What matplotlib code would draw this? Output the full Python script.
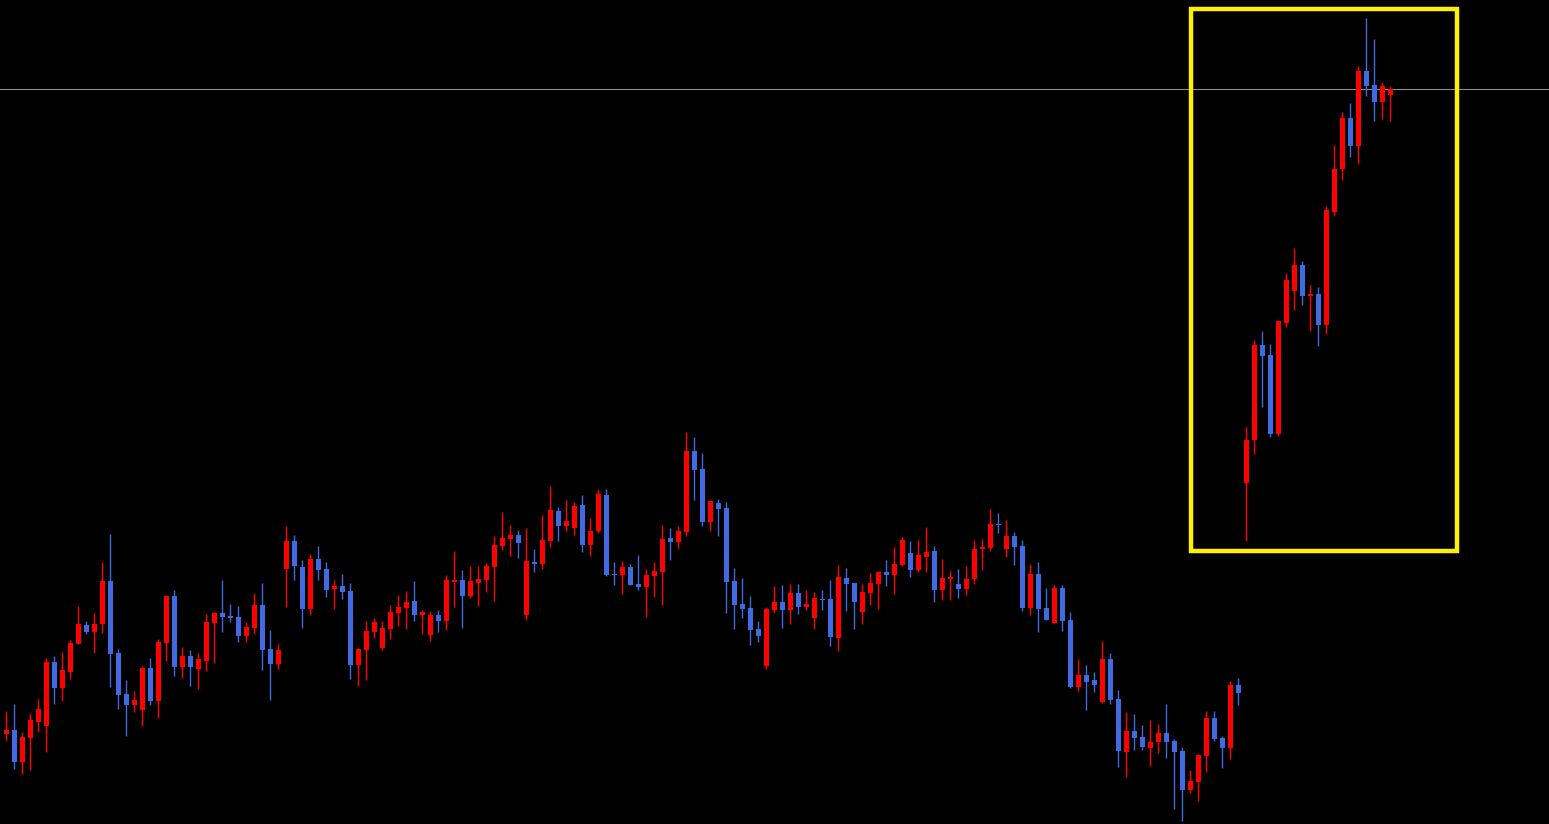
import numpy as np
import matplotlib.pyplot as plt
from matplotlib.patches import Rectangle

# OHLC (price units = chart points)
opens = [90, 94, 62, 86, 102, 98, 162, 136, 152, 180, 199, 192, 200, 243, 171, 130, 119, 114, 156, 123,
         181, 228, 157, 168, 155, 163, 201, 211, 208, 207, 188, 196, 219, 175, 160, 255, 283, 257, 215, 265,
         255, 235, 238, 233, 159, 174, 192, 176, 195, 211, 216, 223, 209, 189, 209, 203, 242, 244, 228, 241,
         244, 257, 278, 285, 289, 209, 262, 260, 283, 313, 298, 296, 319, 279, 293, 329, 250, 249, 257, 240,
         237, 248, 252, 286, 282, 292, 373, 355, 302, 321, 316, 243, 220, 216, 195, 158, 214, 222, 214, 231,
         217, 206, 225, 225, 186, 246, 241, 212, 231, 240, 252, 249, 259, 271, 254, 267, 273, 234, 245, 240,
         235, 245, 275, 276, 300, 275, 288, 278, 216, 250, 216, 201, 236, 204, 137, 149, 144, 122, 165, 125,
         72, 93, 87, 76, 82, 91, 83, 73, 34, 42, 68, 106, 86, 76, 139, 341, 384, 479, 469, 390,
         501, 533, 559, 528, 530, 499, 612, 655, 706, 678, 753, 739, 722, 729]
highs = [113, 120, 92, 111, 125, 166, 168, 172, 184, 218, 203, 211, 262, 290, 175, 144, 133, 158, 166, 185,
         228, 234, 177, 174, 171, 210, 212, 244, 220, 218, 202, 231, 241, 194, 180, 298, 289, 264, 270, 278,
         262, 244, 250, 241, 176, 203, 206, 203, 219, 229, 233, 243, 214, 213, 214, 249, 273, 254, 258, 258,
         261, 288, 312, 299, 294, 296, 275, 309, 338, 317, 324, 322, 329, 306, 335, 335, 262, 263, 260, 269,
         255, 262, 299, 296, 298, 392, 387, 371, 323, 325, 322, 256, 246, 228, 203, 217, 238, 239, 240, 240,
         234, 232, 234, 244, 259, 256, 241, 240, 251, 253, 264, 277, 287, 283, 284, 297, 278, 265, 253, 255,
         258, 284, 285, 315, 311, 304, 292, 284, 260, 262, 236, 239, 239, 212, 165, 159, 152, 183, 171, 134,
         112, 110, 99, 104, 100, 120, 85, 77, 54, 70, 113, 113, 88, 143, 146, 397, 484, 493, 480, 503,
         551, 576, 563, 539, 537, 618, 679, 712, 721, 758, 806, 785, 742, 738]
lows = [84, 55, 50, 54, 92, 72, 120, 123, 145, 180, 190, 171, 191, 137, 115, 88, 112, 98, 119, 106,
        163, 148, 146, 138, 135, 153, 161, 192, 202, 182, 182, 190, 154, 124, 155, 217, 244, 196, 209, 244,
        227, 215, 225, 145, 138, 144, 186, 174, 185, 198, 195, 203, 190, 183, 192, 194, 217, 196, 226, 218,
        232, 223, 274, 268, 266, 204, 252, 255, 277, 283, 293, 289, 272, 268, 291, 248, 239, 230, 239, 234,
        207, 227, 219, 264, 276, 288, 324, 298, 293, 288, 211, 195, 206, 179, 182, 155, 211, 196, 200, 210,
        214, 195, 214, 178, 173, 213, 195, 200, 219, 215, 238, 230, 258, 247, 252, 252, 222, 224, 224, 226,
        229, 240, 254, 273, 291, 267, 259, 213, 209, 192, 204, 201, 193, 136, 133, 114, 132, 121, 120, 57,
        47, 74, 74, 58, 71, 66, 15, 3, 31, 23, 52, 83, 56, 65, 119, 283, 370, 417, 387, 388,
        497, 514, 519, 493, 478, 490, 608, 644, 667, 660, 728, 703, 705, 703]
closes = [94, 62, 87, 104, 115, 162, 136, 154, 181, 200, 192, 200, 243, 170, 129, 119, 124, 156, 123, 182,
          228, 157, 168, 157, 165, 202, 211, 207, 206, 188, 197, 219, 174, 160, 174, 283, 258, 215, 265, 254,
          234, 238, 232, 159, 175, 193, 202, 196, 212, 217, 222, 209, 212, 209, 203, 244, 244, 228, 243, 245,
          258, 279, 286, 289, 281, 263, 260, 284, 314, 298, 303, 318, 279, 293, 330, 249, 249, 257, 239, 237,
          249, 253, 285, 282, 293, 373, 354, 302, 323, 315, 242, 219, 215, 194, 188, 215, 222, 214, 231, 217,
          220, 226, 224, 187, 247, 240, 222, 232, 241, 252, 249, 260, 284, 254, 269, 272, 234, 246, 247, 235,
          245, 275, 277, 300, 299, 288, 277, 216, 250, 215, 204, 236, 203, 137, 149, 142, 139, 165, 124, 73,
          93, 86, 77, 82, 91, 82, 72, 34, 43, 69, 106, 85, 76, 139, 131, 384, 479, 468, 390, 503,
          544, 559, 528, 530, 499, 614, 655, 706, 678, 753, 738, 722, 738, 735]

level = 735                       # horizontal line
box_x = (148.1, 181.35)           # highlight box (bar index range)
box_y = (273, 815)                # highlight box (price range)

up_col = '#FF0000'
down_col = '#4169E1'

o = np.array(opens, float)
h = np.array(highs, float)
l = np.array(lows, float)
c = np.array(closes, float)
idx = np.arange(len(o))
cols = np.where(c >= o, up_col, down_col)

fig = plt.figure(figsize=(15.49, 8.24), dpi=100, facecolor='black')
ax = fig.add_axes([0, 0, 1, 1])
ax.set_facecolor('black')

ax.axhline(level, color='#8c8c8c', lw=0.8, zorder=1)
ax.vlines(idx, l, h, colors=cols, lw=1.0, zorder=2)
bottom = np.minimum(o, c)
height = np.maximum(np.abs(c - o), 1.2)
ax.bar(idx, height, bottom=bottom, width=0.62, color=cols, edgecolor='none', zorder=3)

ax.add_patch(Rectangle((box_x[0], box_y[0]), box_x[1] - box_x[0], box_y[1] - box_y[0],
                       fill=False, edgecolor='#FFEF00', lw=3.2, zorder=4))

ax.set_xlim(-0.79, 192.84)
ax.set_ylim(0, 824)
ax.axis('off')

fig.savefig('out.png', dpi=100, facecolor='black')
